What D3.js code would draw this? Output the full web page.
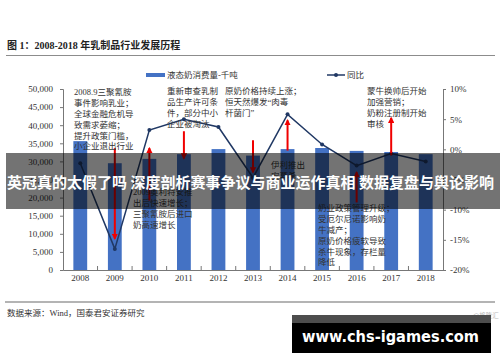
<!DOCTYPE html>
<html>
<head>
<meta charset="UTF-8">
<title>乳制品行业发展历程</title>
<script type="text/javascript" src="https://cdn.jsdelivr.net/npm/d3@7/dist/d3.min.js"></script>
<style type="text/css">
body{margin:0;background:#fff;}
svg{display:block;}
.axis text{font-family:"Liberation Serif",serif;font-size:9px;fill:#333;}
.axis path,.axis line{stroke:#777;}
.note{font-family:"Liberation Serif","Noto Sans CJK SC",serif;font-size:8.5px;fill:#333;}
</style>
</head>
<body>
<script type="text/javascript">
var width=500,height=362;
// 数据
var years=[2008,2009,2010,2011,2012,2013,2014,2015,2016,2017,2018];
var consumption=[35600,29500,30700,32000,33400,31600,33400,33700,32900,32600,32000];//液态奶消费量-千吨
var yoy=[-2.3,-16.5,3.2,5.0,3.7,-4.7,5.8,0.8,-2.7,-0.7,-2.0];//同比 %
var leftTicks=[0,5000,10000,15000,20000,25000,30000,35000,40000,45000,50000];
var rightTicks=[-20,-15,-10,-5,0,5,10];
// 箭头（右轴百分比单位，起点->终点）
var arrowYears=[2009,2010,2011,2013,2014,2016,2017];
var arrowFrom=[0.2,-8.5,3.0,1.5,-0.2,-8.8,-1.0];
var arrowTo=[-14.8,0.2,-1.5,-3.8,4.8,-3.8,5.2];

var svg=d3.select("body").append("svg")
	.attr("width",width)
	.attr("height",height);

var x=d3.scaleBand().domain(years).range([63,443]).paddingInner(0.6).paddingOuter(0.3);
var yL=d3.scaleLinear().domain([0,50000]).range([270,89]);
var yR=d3.scaleLinear().domain([-20,10]).range([270,89]);

// 标题
svg.append("text")
	.attr("x",7).attr("y",49)
	.attr("font-family","'Liberation Serif','Noto Sans CJK SC',serif")
	.attr("font-weight","bold")
	.attr("font-size","10px")
	.attr("fill","#222")
	.text("图 1：2008-2018 年乳制品行业发展历程");
svg.append("line").attr("x1",6).attr("x2",495).attr("y1",55.5).attr("y2",55.5)
	.attr("stroke","#8c8c8c").attr("stroke-width",1.2);

// 图例
svg.append("rect").attr("x",146).attr("y",73).attr("width",19).attr("height",4).attr("fill","#4472c4");
svg.append("text").attr("class","note").attr("x",167).attr("y",78).attr("font-size","8px").text("液态奶消费量-千吨");
svg.append("line").attr("x1",327).attr("x2",345).attr("y1",75).attr("y2",75).attr("stroke","#203864").attr("stroke-width",1.5);
svg.append("circle").attr("cx",336).attr("cy",75).attr("r",2).attr("fill","#203864");
svg.append("text").attr("class","note").attr("x",347).attr("y",78).attr("font-size","8px").text("同比");

// 柱
svg.append("g").selectAll("rect")
	.data(years)
	.enter()
	.append("rect")
	.attr("x",function(d){return x(d);})
	.attr("y",function(d,i){return yL(consumption[i]);})
	.attr("width",x.bandwidth())
	.attr("height",function(d,i){return yL(0)-yL(consumption[i]);})
	.attr("fill","#4472c4");

// 坐标轴
svg.append("g").attr("class","axis")
	.attr("transform","translate(63,0)")
	.call(d3.axisLeft(yL).tickValues(leftTicks).tickFormat(d3.format(",")).tickSize(3).tickPadding(7));
svg.append("g").attr("class","axis")
	.attr("transform","translate(443,0)")
	.call(d3.axisRight(yR).tickValues(rightTicks).tickFormat(function(d){return d+"%";}).tickSize(3).tickPadding(4));
var xa=svg.append("g").attr("class","axis")
	.attr("transform","translate(0,270)")
	.call(d3.axisBottom(x).tickSize(0).tickPadding(5));
xa.select(".domain").attr("stroke","#777");
xa.selectAll(".sep")
	.data(years.slice(1))
	.enter()
	.append("line")
	.attr("x1",function(d){return x(d)-x.step()*x.paddingInner()/2;})
	.attr("x2",function(d){return x(d)-x.step()*x.paddingInner()/2;})
	.attr("y1",0).attr("y2",-4)
	.attr("stroke","#777");

// 同比折线
var line=d3.line()
	.x(function(d,i){return x(years[i])+x.bandwidth()/2;})
	.y(function(d){return yR(d);});
svg.append("path").datum(yoy)
	.attr("d",line)
	.attr("fill","none")
	.attr("stroke","#203864")
	.attr("stroke-width",1.5);
svg.append("g").selectAll("circle")
	.data(yoy)
	.enter()
	.append("circle")
	.attr("cx",function(d,i){return x(years[i])+x.bandwidth()/2;})
	.attr("cy",function(d){return yR(d);})
	.attr("r",2)
	.attr("fill","#203864");

// 红色箭头
svg.append("defs").append("marker")
	.attr("id","head")
	.attr("viewBox","0 0 10 10")
	.attr("refX",8).attr("refY",5)
	.attr("markerWidth",3.2).attr("markerHeight",3.2)
	.attr("orient","auto")
	.append("path").attr("d","M0,0L10,5L0,10z").attr("fill","#f00000");
svg.append("g").selectAll("line")
	.data(arrowYears)
	.enter()
	.append("line")
	.attr("x1",function(d){return x(d)+x.bandwidth()/2;})
	.attr("x2",function(d){return x(d)+x.bandwidth()/2;})
	.attr("y1",function(d,i){return yR(arrowFrom[i]);})
	.attr("y2",function(d,i){return yR(arrowTo[i]);})
	.attr("stroke","#f00000")
	.attr("stroke-width",2)
	.attr("marker-end","url(#head)");

// 注释
var notes=[
	{x:74,y:92,lines:["2008.9三聚氰胺","事件影响乳业；","全球金融危机导","致需求萎缩；","提升政策门槛，","小企业退出行业"]},
	{x:167,y:91,lines:["重新审查乳制","品生产许可条","件，部分中小","企业被淘汰"]},
	{x:225,y:91,lines:["原奶价格持续上涨；","恒天然爆发“肉毒","杆菌门”"]},
	{x:367,y:91,lines:["蒙牛换帅后开始","加强营销；","奶粉注册制开始","审核"]},
	{x:271,y:165,lines:["伊利推出","安慕希"]},
	{x:133,y:192,lines:["2009奥利特安推","出后快速增长；","三聚氰胺后进口","奶高速增长"]},
	{x:318,y:208,lines:["奶业政策管理升级；","受厄尔尼诺影响奶","牛减产；","原奶价格疲软导致","杀牛现象，存栏量","降低"]}
];
notes.forEach(function(n){
	var t=svg.append("text").attr("class","note");
	n.lines.forEach(function(s,i){
		t.append("tspan").attr("x",n.x).attr("y",n.y+i*10.9).attr("dy","0.35em").text(s);
	});
});

// 底部来源
svg.append("line").attr("x1",5).attr("x2",495).attr("y1",302).attr("y2",302)
	.attr("stroke","#b4b4b4").attr("stroke-width",2);
svg.append("text").attr("class","note").attr("x",7).attr("y",316).attr("font-size","8.5px")
	.text("数据来源：Wind，国泰君安证券研究");
svg.append("text").attr("x",473).attr("y",318).attr("font-family","'Noto Sans CJK SC'")
	.attr("font-size","6.5px").attr("fill","#bbb").text("@格隆汇");

// 遮罩横幅
svg.append("rect").attr("x",6).attr("y",153).attr("width",494).attr("height",56)
	.attr("fill","rgba(0,0,0,0.55)");
svg.append("text")
	.attr("x",7).attr("y",188)
	.attr("font-family","'Noto Sans CJK SC'")
	.attr("font-weight","bold")
	.attr("font-size","15px")
	.attr("fill","#fff")
	.attr("textLength",487)
	.attr("lengthAdjust","spacingAndGlyphs")
	.text("英冠真的太假了吗 深度剖析赛事争议与商业运作真相 数据复盘与舆论影响");

// 网址框
svg.append("rect").attr("x",292).attr("y",315).attr("width",199).attr("height",38).attr("fill","#000");
svg.append("rect").attr("x",292).attr("y",315).attr("width",199).attr("height",8).attr("fill","#4d4d4d");
svg.append("text")
	.attr("x",302).attr("y",342)
	.attr("font-family","'DejaVu Sans',sans-serif")
	.attr("font-weight","bold")
	.attr("font-size","16px")
	.attr("fill","#fff")
	.attr("textLength",177)
	.attr("lengthAdjust","spacingAndGlyphs")
	.text("www.chs-igames.com");
</script>
</body>
</html>
